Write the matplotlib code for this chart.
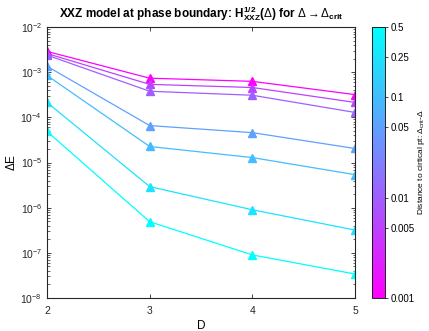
import matplotlib
matplotlib.use('Agg')
import matplotlib.pyplot as plt
from matplotlib.colors import LogNorm
from matplotlib.ticker import LogLocator, NullFormatter
import numpy as np

plt.rcParams['font.family'] = ['Liberation Sans', 'DejaVu Sans']
plt.rcParams['mathtext.fontset'] = 'custom'
plt.rcParams['mathtext.rm'] = 'Liberation Sans'
plt.rcParams['mathtext.it'] = 'Liberation Sans'
plt.rcParams['mathtext.bf'] = 'Liberation Sans:bold'

# data
D = [2, 3, 4, 5]
deltas = [0.001, 0.005, 0.01, 0.05, 0.1, 0.25, 0.5]
energies = [
    [2.9e-3, 7.4e-4, 6.3e-4, 3.2e-4],
    [2.6e-3, 5.4e-4, 4.6e-4, 2.15e-4],
    [2.4e-3, 3.8e-4, 3.1e-4, 1.29e-4],
    [1.36e-3, 6.6e-5, 4.6e-5, 2.05e-5],
    [8.5e-4, 2.27e-5, 1.29e-5, 5.4e-6],
    [2.15e-4, 2.93e-6, 9.0e-7, 3.2e-7],
    [4.9e-5, 4.9e-7, 9.0e-8, 3.4e-8],
]
cbar_ticks = [0.001, 0.005, 0.01, 0.05, 0.1, 0.25, 0.5]

cmap = plt.get_cmap('cool_r')
norm = LogNorm(vmin=0.001, vmax=0.5)

fig = plt.figure(figsize=(4.29, 3.31), dpi=100)
ax = fig.add_axes([0.1096, 0.0997, 0.7179, 0.8183])
cax = fig.add_axes([0.867, 0.0997, 0.030, 0.8183])

for d, e in zip(deltas, energies):
    c = cmap(norm(d))
    ax.plot(D, e, '-^', color=c, lw=0.9, ms=6, mfc=c, mec=c)

ax.set_yscale('log')
ax.set_ylim(1e-8, 1e-2)
ax.set_xlim(2, 5)
ax.set_xticks(D)
ax.yaxis.set_minor_locator(LogLocator(base=10, subs=np.arange(2, 10), numticks=20))
ax.yaxis.set_minor_formatter(NullFormatter())
ax.tick_params(which='both', direction='in', top=True, right=True, labelsize=7.5, colors='#262626')
ax.tick_params(which='major', length=3, width=0.6)
ax.tick_params(which='minor', length=1.8, width=0.5)
ax.tick_params(axis='x', pad=6)
for s in ax.spines.values():
    s.set_linewidth(0.8)
    s.set_color('#262626')

ax.set_xlabel('D', fontsize=8.5, labelpad=3)
ax.set_ylabel(r'$\Delta$E', fontsize=8.5, labelpad=2)
ax.set_title(r'XXZ model at phase boundary: $\mathbf{H^{1/2}_{XXZ}}$($\Delta$) for $\Delta\rightarrow\Delta_{\mathbf{crit}}$',
             fontsize=8.5, fontweight='bold', pad=7)

sm = plt.cm.ScalarMappable(norm=norm, cmap=cmap)
cb = fig.colorbar(sm, cax=cax)
cb.set_ticks(cbar_ticks)
cb.set_ticklabels(['0.001', '0.005', '0.01', '0.05', '0.1', '0.25', '0.5'])
cb.ax.minorticks_off()
cb.ax.tick_params(labelsize=7, direction='out', length=2, width=0.5, pad=2)
cb.outline.set_linewidth(0.6)
cb.set_label(r'Distance to cirtical pt: $\Delta_{crit}$-$\Delta$', fontsize=6, labelpad=1)

fig.savefig('out.png', dpi=100)
